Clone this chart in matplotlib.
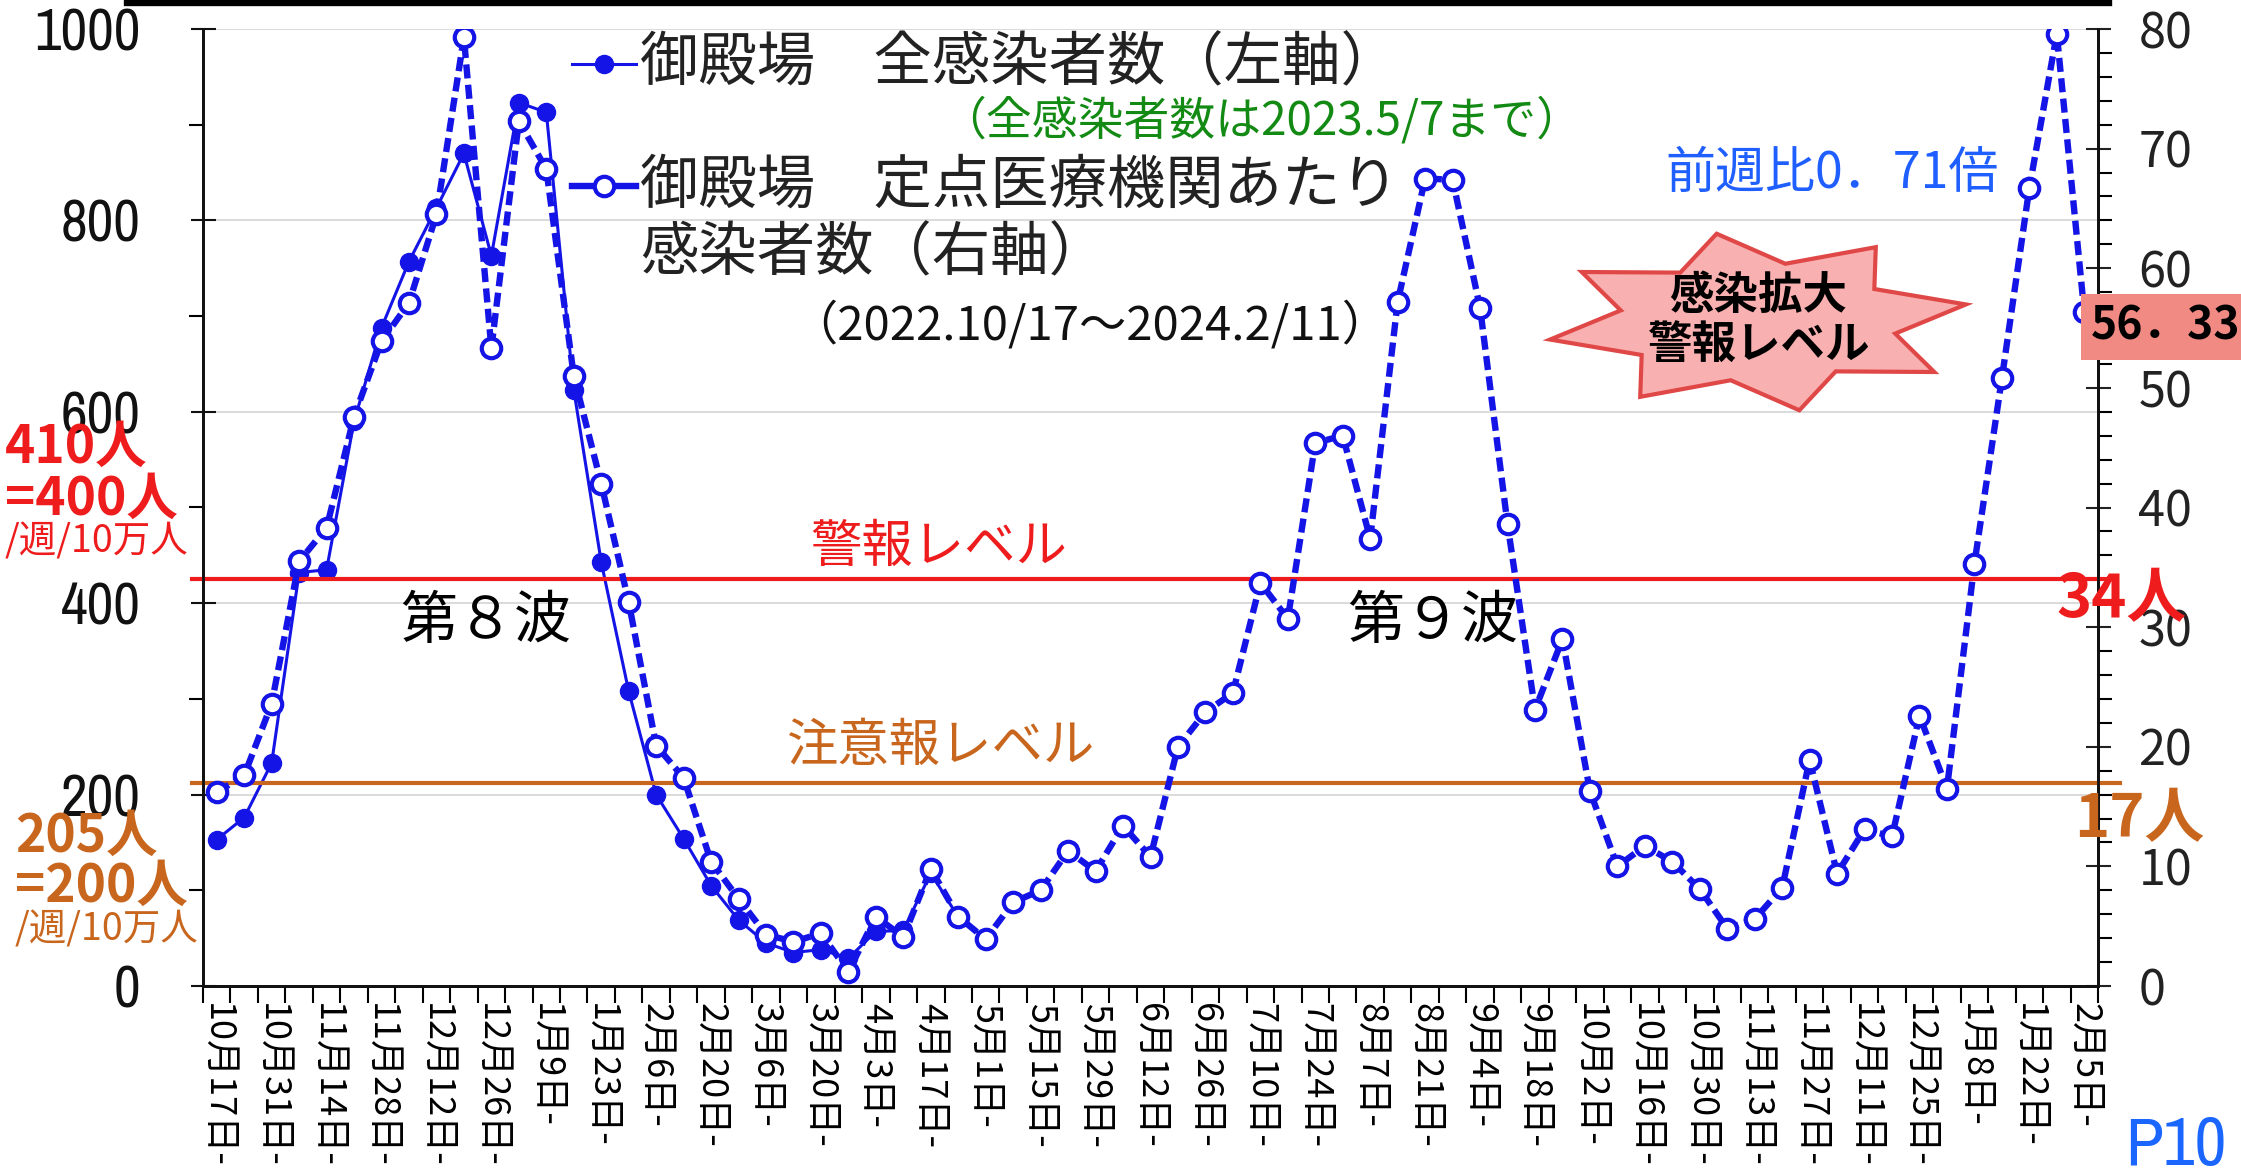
import matplotlib

matplotlib.use("Agg")
import matplotlib.pyplot as plt
from matplotlib import font_manager
from matplotlib.lines import Line2D
from matplotlib.patches import Polygon
import numpy as np

# --- data ---
week_labels = [
    "10月17日-", "10月31日-", "11月14日-", "11月28日-", "12月12日-", "12月26日-",
    "1月9日-", "1月23日-", "2月6日-", "2月20日-", "3月6日-", "3月20日-",
    "4月3日-", "4月17日-", "5月1日-", "5月15日-", "5月29日-", "6月12日-",
    "6月26日-", "7月10日-", "7月24日-", "8月7日-", "8月21日-", "9月4日-",
    "9月18日-", "10月2日-", "10月16日-", "10月30日-", "11月13日-", "11月27日-",
    "12月11日-", "12月25日-", "1月8日-", "1月22日-", "2月5日-",
]
n_weeks = 69

# 御殿場 全感染者数 (left axis, until 2023.5/7)
total_cases = [
    153, 176, 233, 432, 435, 590, 688, 757, 813, 870,
    763, 923, 913, 623, 443, 308, 200, 154, 105, 69,
    45, 35, 38, 29, 57, 58, 118, 72, 50,
]

# 御殿場 定点医療機関あたり感染者数 (right axis)
per_sentinel = [
    16.2, 17.6, 23.6, 35.5, 38.3, 47.6, 53.9, 57.1, 64.5, 79.3,
    53.3, 72.3, 68.3, 51.0, 42.0, 32.1, 20.1, 17.4, 10.4, 7.3,
    4.3, 3.7, 4.4, 1.2, 5.8, 4.1, 9.8, 5.8, 3.9, 7.0,
    8.0, 11.3, 9.6, 13.4, 10.8, 20.0, 22.9, 24.5, 33.7, 30.7,
    45.4, 46.0, 37.4, 57.2, 67.5, 67.4, 56.7, 38.6, 23.1, 29.0,
    16.3, 10.0, 11.7, 10.4, 8.1, 4.8, 5.6, 8.2, 18.9, 9.4,
    13.1, 12.5, 22.6, 16.5, 35.3, 50.8, 66.7, 79.6, 56.33,
]

alarm_level = 34      # 警報レベル (per sentinel)
advisory_level = 17   # 注意報レベル (per sentinel)
left_max, right_max = 1000, 80

W, H = 2241, 1173
BLUE = "#1414e6"
RED = "#ee1c1c"
ORANGE = "#c8661e"

JP = "Noto Sans CJK JP"
plt.rcParams["font.family"] = [JP, "DejaVu Sans"]


def _narrow_font():
    # an upright condensed face for the numeric labels, if one is installed
    fonts = [f for f in font_manager.fontManager.ttflist
             if f.style == "normal" and f.weight in (400, "normal", "regular")]
    for f in fonts:
        if "Narrow" in f.name:
            return font_manager.FontProperties(fname=f.fname)
    for f in fonts:
        if "Condensed" in f.fname:
            return font_manager.FontProperties(fname=f.fname)
    return font_manager.FontProperties(family="DejaVu Sans")


NARROW = _narrow_font()


def fx(px):
    return px / W


def fy(py):
    return 1 - py / H


fig = plt.figure(figsize=(W / 100, H / 100), dpi=100)
ax = fig.add_axes([fx(203), fy(986), (2098 - 203) / W, (986 - 29) / H])
ax2 = ax.twinx()

x_all = np.arange(n_weeks)
x_tot = np.arange(len(total_cases))

ax.plot(x_tot, total_cases, color=BLUE, lw=2.2, marker="o", ms=13, mfc=BLUE, mec=BLUE, zorder=3)
ax2.plot(x_all, per_sentinel, color=BLUE, lw=4.6, dashes=(2.2, 1.0), marker="o", ms=14,
         mfc="white", mec=BLUE, mew=3.0, zorder=3)

ax.set_xlim(-0.5, n_weeks - 0.5)
ax.set_ylim(0, left_max)
ax2.set_ylim(0, right_max)

# warning level lines
ax2.plot([-0.9, n_weeks - 0.1], [alarm_level, alarm_level], color=RED, lw=3, clip_on=False, zorder=2)
ax2.plot([-0.9, n_weeks + 0.3], [advisory_level, advisory_level], color=ORANGE, lw=3, clip_on=False, zorder=2)

# grid
ax.set_yticks(np.arange(0, left_max + 1, 200))
ax.set_yticks(np.arange(100, left_max, 200), minor=True)
ax.grid(axis="y", which="major", color="#d4d4d4", lw=1.2)
ax.set_axisbelow(True)

ax.tick_params(axis="y", which="major", direction="inout", length=18, width=1.5, pad=36,
               colors="#111111")
ax.tick_params(axis="y", which="minor", direction="out", length=10, width=1.5)
for t in ax.get_yticklabels():
    t.set_fontproperties(NARROW)
    t.set_fontsize(42)

ax2.set_yticks(np.arange(0, right_max + 1, 10))
ax2.set_yticks(np.arange(0, right_max + 1, 2), minor=True)
ax2.tick_params(axis="y", which="major", direction="inout", length=18, width=1.5, pad=20,
                labelsize=35, colors="#222222")
ax2.tick_params(axis="y", which="minor", direction="out", length=10, width=1.5)

ax.set_xticks(np.arange(0, n_weeks, 2))
ax.set_xticklabels(week_labels, rotation=-90, fontsize=26, va="top", ha="center")
ax.set_xticks(np.arange(-0.5, n_weeks, 1), minor=True)
ax.tick_params(axis="x", which="major", length=0, pad=12)
ax.tick_params(axis="x", which="minor", direction="out", length=12, width=1.5)

for a in (ax, ax2):
    a.spines["top"].set_visible(False)
    for s in ("left", "right", "bottom"):
        a.spines[s].set_linewidth(2)
        a.spines[s].set_color("#111111")

# black bar at the top edge
fig.add_artist(Line2D([fx(128), fx(2108)], [fy(2), fy(2)], color="black", lw=6))

# legend (manual)
fig.add_artist(Line2D([fx(572), fx(604), fx(636)], [fy(64)] * 3, color=BLUE, lw=2.2, marker="o",
                      ms=13, mfc=BLUE, mec=BLUE, markevery=[1]))
fig.add_artist(Line2D([fx(572), fx(604), fx(636)], [fy(186)] * 3, color=BLUE, lw=4.6,
                      marker="o", ms=14, mfc="white", mec=BLUE, mew=3.0, markevery=[1]))
fig.text(fx(640), fy(64), "御殿場　全感染者数（左軸）", fontsize=42, color="#222222", va="center")
fig.text(fx(940), fy(121), "（全感染者数は2023.5/7まで）", fontsize=33, color="#138a13", va="center")
fig.text(fx(640), fy(186), "御殿場　定点医療機関あたり", fontsize=42, color="#222222", va="center")
fig.text(fx(640), fy(254), "感染者数（右軸）", fontsize=42, color="#222222", va="center")
fig.text(fx(790), fy(326), "（2022.10/17～2024.2/11）", fontsize=34, color="#111111", va="center")

# level labels inside the plot
fig.text(fx(939), fy(547), "警報レベル", fontsize=37, color=RED, ha="center", va="center")
fig.text(fx(940), fy(746), "注意報レベル", fontsize=37, color=ORANGE, ha="center", va="center")
fig.text(fx(486), fy(622), "第８波", fontsize=41, color="black", ha="center", va="center")
fig.text(fx(1433), fy(622), "第９波", fontsize=41, color="black", ha="center", va="center")

# left-side level notes
fig.text(fx(5), fy(447), "410人", fontsize=37, color=RED, va="center", fontweight="bold")
fig.text(fx(5), fy(499), "=400人", fontsize=37, color=RED, va="center", fontweight="bold")
fig.text(fx(5), fy(542), "/週/10万人", fontsize=27, color=RED, va="center")
fig.text(fx(15), fy(836), "205人", fontsize=37, color=ORANGE, va="center", fontweight="bold")
fig.text(fx(15), fy(886), "=200人", fontsize=37, color=ORANGE, va="center", fontweight="bold")
fig.text(fx(15), fy(930), "/週/10万人", fontsize=27, color=ORANGE, va="center")

# right-side level notes
fig.text(fx(2122), fy(600), "34人", fontsize=43, color=RED, ha="center", va="center", fontweight="bold")
fig.text(fx(2139), fy(820), "17人", fontsize=43, color=ORANGE, ha="center", va="center", fontweight="bold")

# week-on-week ratio and latest value
fig.text(fx(1832), fy(174), "前週比0．71倍", fontsize=36, color="#1f5fff", ha="center", va="center")
fig.text(fx(2166), fy(327), "56．33", fontsize=32, color="black", ha="center", va="center",
         fontweight="bold",
         bbox=dict(boxstyle="square,pad=0.22", fc="#f28a84", ec="none"))

# starburst badge
cx, cy, rx, ry = 1758, 322, 212, 90
ang = np.linspace(0, 2 * np.pi, 17)[:-1] + np.pi / 16
rad = np.where(np.arange(16) % 2 == 0, 1.0, 0.66)
star = [(fx(cx + rx * r * np.cos(a)), fy(cy - ry * r * np.sin(a))) for a, r in zip(ang, rad)]
fig.add_artist(Polygon(star, closed=True, transform=fig.transFigure, fc="#f8b0b0", ec="#e04848", lw=3))
fig.text(fx(1758), fy(296), "感染拡大", fontsize=32, color="black", ha="center", va="center", fontweight="bold")
fig.text(fx(1758), fy(345), "警報レベル", fontsize=32, color="black", ha="center", va="center", fontweight="bold")

fig.text(fx(2176), fy(1146), "P10", fontproperties=NARROW, fontsize=50, color="#1a66ff",
         ha="center", va="center")

fig.savefig("out.png", dpi=100)
